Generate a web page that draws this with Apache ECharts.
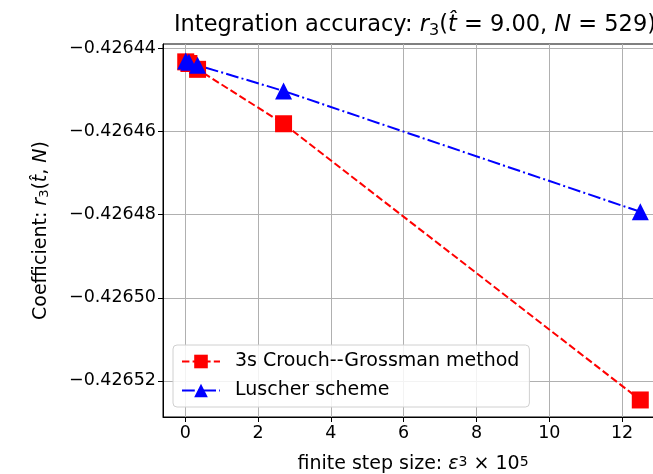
<!DOCTYPE html>
<html><head><meta charset="utf-8">
<script src="https://cdn.jsdelivr.net/npm/echarts@6/dist/echarts.min.js"></script>
<style>html,body{margin:0;padding:0;background:#fff}#c{width:653px;height:474px}</style>
</head><body><div id="c"></div>
<script>
const stepSizes = [0.0125, 0.1, 0.3375, 2.7, 12.5];
const crouchGrossman = [-0.4264432, -0.4264436, -0.4264450, -0.4264581, -0.4265246];
const luscher = [-0.4264430, -0.4264433, -0.4264440, -0.4264502, -0.4264793];
const xTicks = [0, 2, 4, 6, 8, 10, 12];
const yTicks = [-0.42652, -0.42650, -0.42648, -0.42646, -0.42644];
const seriesNames = ['3s Crouch--Grossman method', 'Luscher scheme'];

const F = 'DejaVu Sans';
const base = {fontFamily: F, fontSize: 19, color: '#000', fontWeight: 'normal'};
const rich = {
  n: {...base},
  i: {...base, fontStyle: 'italic'},
  s: {...base, fontSize: 13, verticalAlign: 'bottom'},
  p: {...base, fontSize: 14, verticalAlign: 'top'}
};
const chart = echarts.init(document.getElementById('c'));
chart.setOption({
  animation: false,
  backgroundColor: '#fff',
  title: {
    text: '{n|Integration accuracy: }{i|r}{s|3}{n|(}{i|t\u0302}{n| = 9.00, }{i|N}{n| = 529)}',
    left: 410, top: 6, textAlign: 'center',
    textStyle: {fontWeight: 'normal', rich: {
      n: {...base, fontSize: 22.5, lineHeight: 28},
      i: {...base, fontSize: 22.5, fontStyle: 'italic', lineHeight: 28},
      s: {...base, fontSize: 16, lineHeight: 22, verticalAlign: 'bottom'}
    }}
  },
  grid: {left: 163, top: 44, width: 500, height: 373, outerBoundsMode: 'none', containLabel: false,
    show: true, borderColor: '#000', borderWidth: 1, backgroundColor: 'transparent'},
  legend: {
    orient: 'vertical', left: 173, top: 345,
    backgroundColor: 'rgba(255,255,255,0.85)', borderColor: '#d0d0d0', borderWidth: 1, borderRadius: 4,
    padding: [7, 10, 7, 8], itemGap: 10, itemWidth: 38, itemHeight: 17,
    textStyle: {fontFamily: F, fontSize: 19, color: '#000', padding: [0, 0, 0, 10]},
    data: seriesNames
  },
  xAxis: {
    type: 'value', min: -0.612, max: 13.124,
    name: '{n|finite step size: }{i|ε}{p|3}{n| × 10}{p|5}',
    nameLocation: 'middle', nameGap: 38,
    nameTextStyle: {rich: rich},
    axisLine: {onZero: false, lineStyle: {color: '#000'}},
    axisTick: {customValues: xTicks, length: 5, lineStyle: {color: '#000'}},
    axisLabel: {customValues: xTicks, fontFamily: F, fontSize: 17.5, color: '#000', margin: 7},
    splitLine: {show: true, lineStyle: {color: '#b0b0b0', width: 1}}
  },
  yAxis: {
    type: 'value', min: -0.4265287, max: -0.4264389,
    name: '{n|Coefficient: }{i|r}{s|3}{n|(}{i|t\u0302}{n|, }{i|N}{n|)}',
    nameLocation: 'middle', nameGap: 112, nameRotate: 90,
    nameTextStyle: {rich: rich},
    axisLine: {onZero: false, lineStyle: {color: '#000'}},
    axisTick: {customValues: yTicks, length: 5, lineStyle: {color: '#000'}},
    axisLabel: {customValues: yTicks, fontFamily: F, fontSize: 17.5, color: '#000', margin: 7,
      formatter: v => v.toFixed(5).replace('-', '\u2212')},
    splitLine: {show: true, lineStyle: {color: '#b0b0b0', width: 1}}
  },
  series: [
    {
      name: seriesNames[0], type: 'line',
      data: stepSizes.map((x, i) => [x, crouchGrossman[i]]),
      symbol: 'rect', symbolSize: 17,
      itemStyle: {color: '#ff0000'},
      lineStyle: {color: '#ff0000', width: 2, type: [7.4, 3.2]}
    },
    {
      name: seriesNames[1], type: 'line',
      data: stepSizes.map((x, i) => [x, luscher[i]]),
      symbol: 'triangle', symbolSize: 17,
      itemStyle: {color: '#0000ff'},
      lineStyle: {color: '#0000ff', width: 2, type: [12.8, 3.2, 2, 3.2]}
    }
  ]
});
</script></body></html>
